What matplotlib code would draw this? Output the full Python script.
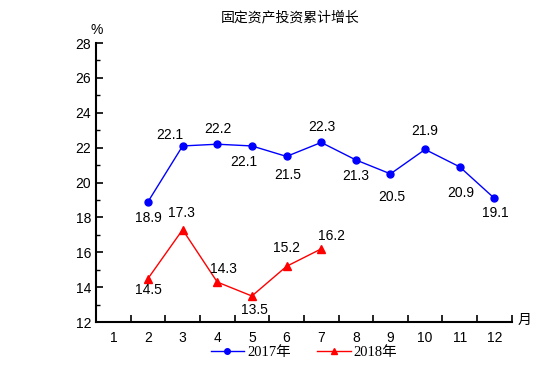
import matplotlib.pyplot as plt
from matplotlib.ticker import MultipleLocator, FixedLocator

# data
months_2017 = [2, 3, 4, 5, 6, 7, 8, 9, 10, 11, 12]
growth_2017 = [18.9, 22.1, 22.2, 22.1, 21.5, 22.3, 21.3, 20.5, 21.9, 20.9, 19.1]
months_2018 = [2, 3, 4, 5, 6, 7]
growth_2018 = [14.5, 17.3, 14.3, 13.5, 15.2, 16.2]
month_labels = [str(m) for m in range(1, 13)]

# label offsets (pixels)
off_2017 = [(0, -16), (-13, 11), (1, 15), (-8, -16), (1, -19), (1, 15),
            (0, -16), (1, -23), (0, 18), (1, -26), (1, -15)]
off_2018 = [(0, -11), (-1, 17), (6, 13), (3, -14), (0, 18), (10, 13)]

sans = ['Liberation Sans', 'Noto Sans CJK SC']
serif = ['Liberation Serif', 'Noto Sans CJK SC']

fig = plt.figure(figsize=(5.55, 3.91), dpi=100)
ax = fig.add_axes([0.173, 0.176, 0.749, 0.714])

ax.plot(months_2017, growth_2017, color='#0000FF', lw=1, marker='o', ms=5, label='2017年')
ax.plot(months_2018, growth_2018, color='#FF0000', lw=1, marker='^', ms=6, label='2018年')

for x, y, (dx, dy) in zip(months_2017, growth_2017, off_2017):
    ax.annotate(f'{y:.1f}', (x, y), xytext=(dx, dy), textcoords='offset pixels',
                ha='center', va='center', fontsize=10, family=sans)
for x, y, (dx, dy) in zip(months_2018, growth_2018, off_2018):
    ax.annotate(f'{y:.1f}', (x, y), xytext=(dx, dy), textcoords='offset pixels',
                ha='center', va='center', fontsize=10, family=sans)

ax.set_xlim(0.5, 12.5)
ax.set_ylim(12, 28)
ax.yaxis.set_major_locator(MultipleLocator(2))
ax.yaxis.set_minor_locator(MultipleLocator(1))
ax.xaxis.set_major_locator(FixedLocator([m + 0.5 for m in range(13)]))
ax.xaxis.set_major_formatter(plt.NullFormatter())
ax.xaxis.set_minor_locator(FixedLocator(list(range(1, 13))))
ax.set_xticklabels(month_labels, minor=True)
ax.tick_params(axis='x', which='major', direction='in', length=5, width=1.2)
ax.tick_params(axis='x', which='minor', length=0, pad=6, labelsize=10)
ax.tick_params(axis='y', which='major', direction='in', length=5, width=1.2, labelsize=10)
ax.tick_params(axis='y', which='minor', direction='in', length=3, width=1)
for lab in ax.get_xticklabels(minor=True) + ax.get_yticklabels():
    lab.set_family(sans)

for s in ['top', 'right']:
    ax.spines[s].set_visible(False)
for s in ['left', 'bottom']:
    ax.spines[s].set_linewidth(1.5)

fig.text(0.175, 0.923, '%', ha='center', va='center', fontsize=10, family=sans)
fig.text(0.946, 0.182, '月', ha='center', va='center', fontsize=10, family=sans)
fig.text(0.523, 0.955, '固定资产投资累计增长', ha='center', va='center', fontsize=10,
         family=['Noto Sans CJK SC'])

ax.legend(loc='center', bbox_to_anchor=(0.5, -0.11), ncol=2, frameon=False,
          prop={'family': serif, 'size': 10.5}, handlelength=2.3, columnspacing=1.8,
          handletextpad=0.2, markerscale=0.8)

plt.savefig('out.png', dpi=100)
